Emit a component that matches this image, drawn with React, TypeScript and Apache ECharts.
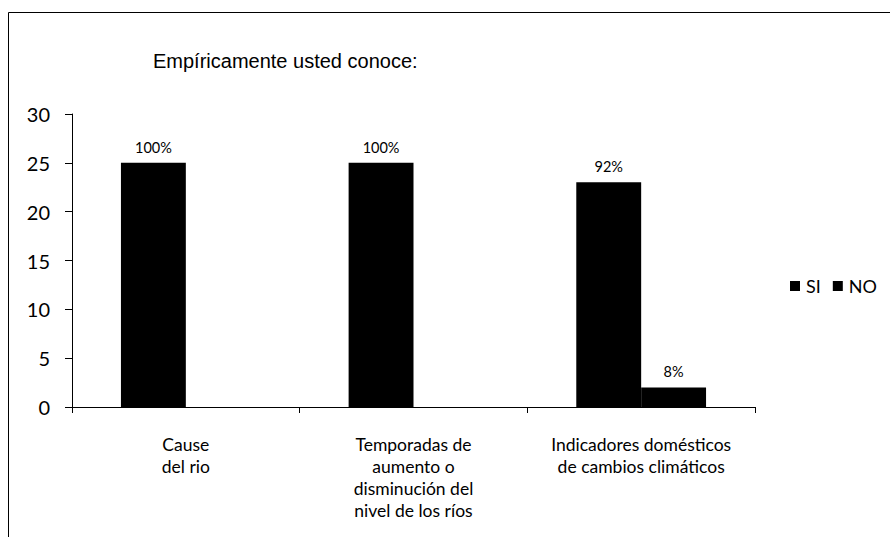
import React, { useEffect, useRef } from "react";
import * as echarts from "echarts";

const categories = [
  "Cause\ndel rio",
  "Temporadas de\naumento o\ndisminución del\nnivel de los ríos",
  "Indicadores domésticos\nde cambios climáticos",
];
const siValues = [25, 25, 23];
const noValues = [0, 0, 2];
const siLabels = ["100%", "100%", "92%"];
const noLabels = ["", "", "8%"];
const yTicks = [0, 5, 10, 15, 20, 25, 30];
const title = "Empíricamente usted conoce:";

export default function App() {
  const ref = useRef<HTMLDivElement>(null);
  useEffect(() => {
    if (!ref.current) return;
    const chart = echarts.init(ref.current, undefined, { renderer: "svg" });
    const labelFont = "Lato, 'Open Sans', sans-serif";
    chart.setOption({
      animation: false,
      backgroundColor: "#fff",
      title: {
        text: title,
        left: 148,
        top: 46,
        textStyle: {
          fontFamily: "'Liberation Sans', Arial, sans-serif",
          fontSize: 20,
          fontWeight: "normal",
          color: "#000",
        },
      },
      legend: {
        left: 785,
        top: 272,
        padding: 5,
        itemWidth: 10,
        itemHeight: 10,
        itemGap: 12,
        icon: "rect",
        data: ["SI", "NO"],
        textStyle: { fontFamily: labelFont, fontSize: 18, color: "#000", padding: [0, 0, 0, 1] },
      },
      graphic: [
        {
          type: "rect",
          shape: { x: 8.5, y: 12.5, width: 900, height: 600 },
          style: { fill: "none", stroke: "#000", lineWidth: 1 },
          silent: true,
        },
      ],
      grid: { left: 72, right: 135, top: 114, bottom: 130 },
      xAxis: {
        type: "category",
        data: categories,
        axisLine: { lineStyle: { color: "#000", width: 1 } },
        axisTick: { show: true, length: 6, lineStyle: { color: "#000" } },
        axisLabel: {
          interval: 0,
          margin: 26,
          lineHeight: 22,
          fontFamily: labelFont,
          fontSize: 17.5,
          color: "#000",
          align: "center",
        },
      },
      yAxis: {
        type: "value",
        min: yTicks[0],
        max: yTicks[yTicks.length - 1],
        interval: 5,
        axisLine: { show: true, lineStyle: { color: "#000", width: 1 } },
        axisTick: { show: true, length: 7, lineStyle: { color: "#000" } },
        splitLine: { show: false },
        axisLabel: { fontFamily: labelFont, fontSize: 20, color: "#000", margin: 22 },
      },
      series: [
        {
          name: "SI",
          type: "bar",
          data: siValues,
          barGap: "0%",
          barCategoryGap: "43%",
          itemStyle: { color: "#000" },
          label: {
            show: true,
            position: "top",
            distance: 8,
            fontFamily: labelFont,
            fontSize: 14.5,
            color: "#000",
            formatter: (p: any) => siLabels[p.dataIndex],
          },
        },
        {
          name: "NO",
          type: "bar",
          data: noValues,
          itemStyle: { color: "#000" },
          label: {
            show: true,
            position: "top",
            distance: 8,
            fontFamily: labelFont,
            fontSize: 14.5,
            color: "#000",
            formatter: (p: any) => noLabels[p.dataIndex],
          },
        },
      ],
    });
    return () => chart.dispose();
  }, []);
  return (
    <div
      ref={ref}
      style={{ position: "fixed", left: 0, top: 0, width: 890, height: 537 }}
    />
  );
}
